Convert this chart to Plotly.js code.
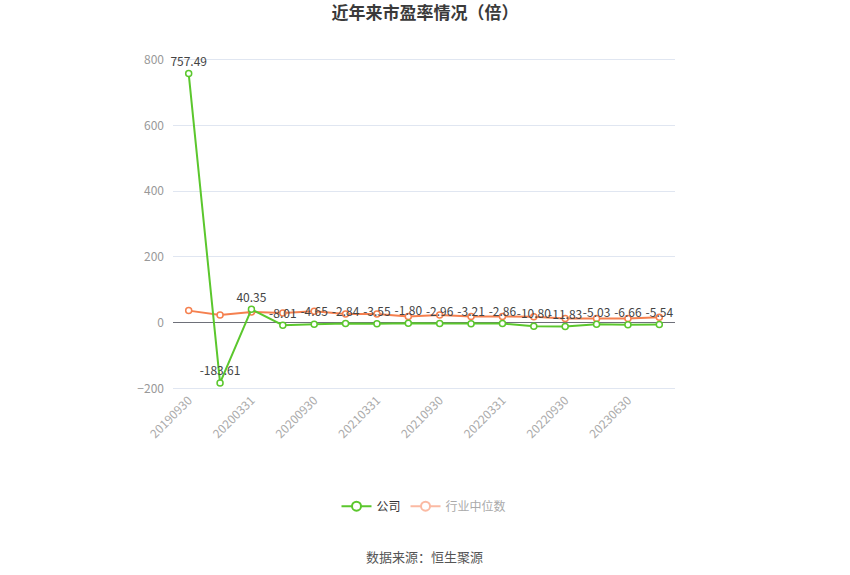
<!DOCTYPE html>
<html>
<head>
<meta charset="utf-8">
<script src="https://cdn.plot.ly/plotly-3.0.1.min.js"></script>
<style>
	html, body { margin: 0; padding: 0; background: #fff; }
	#chart { width: 850px; height: 575px; }
</style>
</head>
<body>
<div id="chart"></div>
<script>
// --- DATA ---
const periods = ['20190930', '20191231', '20200331', '20200630', '20200930', '20201231',
	'20210331', '20210630', '20210930', '20211231', '20220331', '20220630',
	'20220930', '20230331', '20230630', '20230930'];
const companyPE = [757.49, -183.61, 40.35, -8.01, -4.65, -2.84, -3.55, -1.80,
	-2.96, -3.21, -2.86, -10.80, -11.83, -5.03, -6.66, -5.54];
const industryPE = [36.5, 23.5, 32.5, 29.5, 34.5, 26.5, 26.5, 18.5,
	23.5, 18.5, 18.5, 17.5, 12.5, 12.5, 12.5, 16];
const tickPeriods = periods.filter((p, i) => i % 2 === 0);

const FONT = '"Noto Sans CJK SC", "Noto Sans", sans-serif';
const GREEN = '#5bc72d';
const ORANGE = '#f5804f';

const traces = [
	{
		x: periods, y: industryPE, name: '行业中位数', showlegend: false,
		type: 'scatter', mode: 'lines+markers',
		line: { color: ORANGE, width: 2 },
		marker: { symbol: 'circle', size: 6, color: '#fff', line: { color: ORANGE, width: 1.5 } },
		hoverinfo: 'x+y'
	},
	{
		x: periods, y: companyPE, name: '公司', showlegend: false,
		type: 'scatter', mode: 'lines+markers+text',
		text: companyPE.map(v => v.toFixed(2)),
		textposition: 'top center',
		textfont: { family: FONT, size: 12, color: '#444' },
		cliponaxis: false,
		line: { color: GREEN, width: 2 },
		marker: { symbol: 'circle', size: 6, color: '#fff', line: { color: GREEN, width: 1.5 } },
		hoverinfo: 'x+y'
	},
	// legend entries
	{
		x: [null], y: [null], name: '公司', type: 'scatter', mode: 'lines+markers',
		line: { color: GREEN, width: 2 },
		marker: { symbol: 'circle', size: 9, color: '#fff', line: { color: GREEN, width: 2 } }
	},
	{
		x: [null], y: [null], name: '<span style="color:#aaa">行业中位数</span>', type: 'scatter', mode: 'lines+markers',
		line: { color: '#fbbaa3', width: 2 },
		marker: { symbol: 'circle', size: 9, color: '#fff', line: { color: '#fbbaa3', width: 2 } }
	}
];

// small tick marks hanging off the zero line
const tickShapes = tickPeriods.map(p => ({
	type: 'line', xref: 'x', yref: 'y', x0: p, x1: p, y0: 0, y1: -14,
	line: { color: '#6e7079', width: 1 }
}));

const layout = {
	width: 850, height: 575,
	paper_bgcolor: '#fff', plot_bgcolor: '#fff',
	font: { family: FONT, color: '#999', size: 12 },
	margin: { t: 58, l: 173, r: 175, b: 185 },
	title: {
		text: '<b>近年来市盈率情况（倍）</b>',
		font: { family: FONT, size: 17, color: '#3a3a3a' },
		x: 0.5, xanchor: 'center', y: 0.977, yanchor: 'middle'
	},
	xaxis: {
		type: 'category',
		tickmode: 'array', tickvals: tickPeriods, ticktext: tickPeriods,
		tickangle: -45, ticks: '', showgrid: false, zeroline: false, showline: false,
		tickfont: { family: FONT, size: 12, color: '#aaa' },
		range: [-0.5, periods.length - 0.5]
	},
	yaxis: {
		range: [-205, 805], tickvals: [-200, 0, 200, 400, 600, 800],
		gridcolor: '#e0e6f1', gridwidth: 1,
		zeroline: true, zerolinecolor: '#6e7079', zerolinewidth: 1,
		showline: false, ticks: '', ticklabelstandoff: 8,
		tickfont: { family: FONT, size: 12, color: '#999' }
	},
	shapes: tickShapes,
	showlegend: true,
	legend: {
		orientation: 'h', x: 0.5, xanchor: 'center', y: -0.35, yanchor: 'middle',
		font: { family: FONT, size: 12, color: '#333' },
		itemwidth: 30
	},
	annotations: [{
		text: '数据来源：恒生聚源', xref: 'paper', yref: 'paper',
		x: 0.5, xanchor: 'center', y: -0.5, yanchor: 'middle', showarrow: false,
		font: { family: FONT, size: 13, color: '#555' }
	}]
};

Plotly.newPlot('chart', traces, layout, { displayModeBar: false, staticPlot: true });
</script>
</body>
</html>
